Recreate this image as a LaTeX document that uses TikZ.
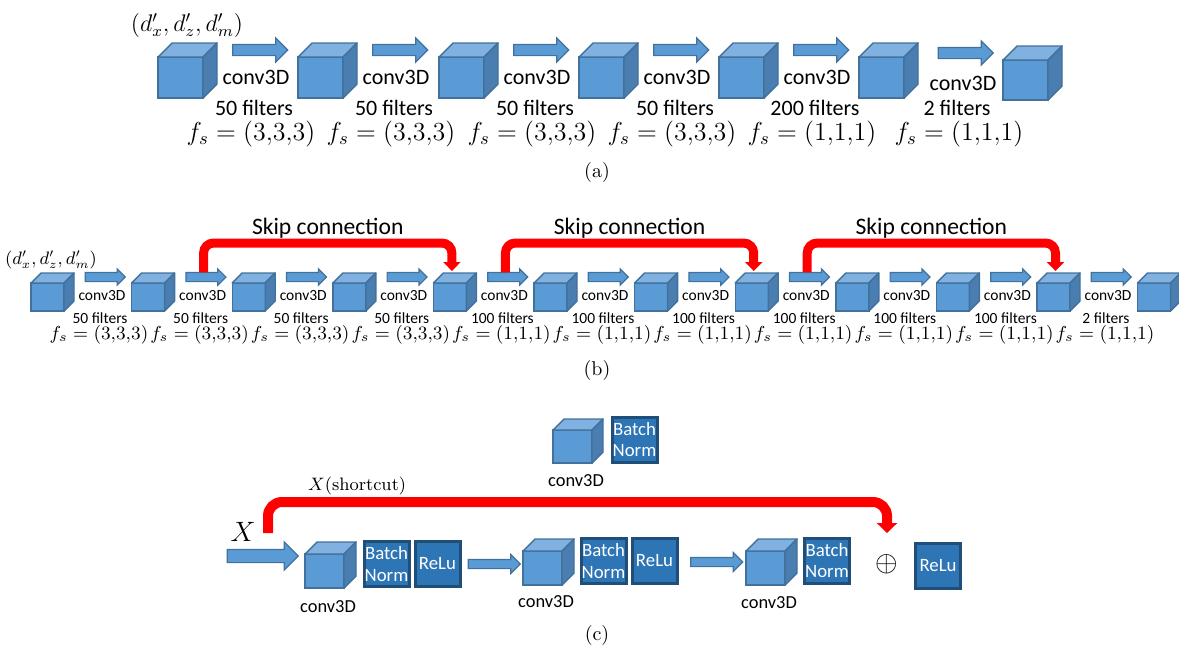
\documentclass[tikz,border=0pt]{standalone}
\usepackage{fix-cm}
\usepackage{fontspec}
\newfontfamily\calibri{Carlito}
\usepackage{tikz}
\usetikzlibrary{positioning,arrows.meta,shapes.arrows,calc}

\definecolor{cubeblue}{HTML}{5B9BD5}
\definecolor{cubelight}{HTML}{80B1E0}
\definecolor{cubedark}{HTML}{4A7DB0}
\definecolor{cubeline}{HTML}{41719C}
\definecolor{normblue}{HTML}{2E75B6}
\definecolor{normline}{HTML}{1F4E79}

\newcommand{\cubenode}[6]{%
  \node[cubeface, minimum width=#4*0.5pt, minimum height=#5*0.5pt] (#1) at (#2,#3) {};
  \filldraw[cubetopface] (#1.north west) -- ++(#6,-#6) -- ++(#4,0) -- (#1.north east) -- cycle;
  \filldraw[cubesideface] (#1.north east) -- ++(#6,-#6) -- ++(0,#5) -- (#1.south east) -- cycle;
}

\begin{document}
\begin{tikzpicture}[x=0.5pt, y=-0.5pt,
cubeface/.style={draw=cubeline, fill=cubeblue, line width=0.7pt, inner sep=0pt, outer sep=0pt},
cubetopface/.style={draw=cubeline, fill=cubelight, line width=0.7pt, line join=round},
cubesideface/.style={draw=cubeline, fill=cubedark, line width=0.7pt, line join=round},
blockarr/.style={single arrow, draw=cubeline, fill=cubeblue, line width=0.6pt, inner xsep=0pt, outer sep=0pt},
arra/.style={blockarr, minimum height=27.5pt, inner ysep=2.5pt, single arrow head extend=3.25pt},
arrb/.style={blockarr, minimum height=20pt, inner ysep=2pt, single arrow head extend=1.75pt},
arrc/.style={blockarr, minimum height=26pt, inner ysep=2pt, single arrow head extend=2.5pt},
arrin/.style={blockarr, minimum height=35.5pt, inner ysep=3pt, single arrow head extend=3.75pt},
lbla/.style={font=\calibri\fontsize{11}{13}\selectfont, inner sep=0pt},
lblb/.style={font=\calibri\fontsize{7.75}{9}\selectfont, inner sep=0pt},
lblc/.style={font=\calibri\fontsize{9.2}{11}\selectfont, inner sep=0pt},
fsa/.style={font=\fontsize{13}{15}\selectfont, inner sep=0pt},
fsb/.style={font=\fontsize{9.4}{11}\selectfont, inner sep=0pt},
normbox/.style={draw=normline, fill=normblue, line width=1.5pt, minimum size=22.5pt, inner sep=0pt, align=center, text=white, font=\calibri\fontsize{9.4}{10.8}\selectfont},
skipb/.style={draw=red, line width=4.5pt, rounded corners=5pt, -{Triangle[width=8.5pt,length=4.5pt]}},
skipc/.style={draw=red, line width=5pt, rounded corners=7pt, -{Triangle[width=10pt,length=5pt]}},
skiplbl/.style={anchor=base, yshift=4.5pt, font=\calibri\fontsize{11.8}{14}\selectfont, inner sep=0pt},
shortlbl/.style={anchor=base, yshift=6pt, font=\fontsize{9}{11}\selectfont, inner sep=0pt},
caption/.style={font=\fontsize{10}{12}\selectfont, inner sep=0pt}
]
\useasboundingbox (0,0) rectangle (1179,645);

\node[font=\fontsize{12}{14}\selectfont, inner sep=0pt] (dima) at (187,25) {$(d'_x,d'_z,d'_m)$};
\foreach \i/\x in {1/158,2/298,3/439,4/579,5/719,6/859} {
  \cubenode{ca\i}{\x+22.5}{77.5}{45}{41}{14}
}
\cubenode{ca7}{1025.5}{80}{45}{40}{14}
\foreach \i/\x/\f/\k in {1/158/50/3,2/298/50/3,3/439/50/3,4/579/50/3,5/719/200/1} {
  \node[arra] (aa\i) at (\x+99.5,50) {};
  \node[lbla] at (\x+98,77) {conv3D};
  \node[lbla] at (\x+96,108) {\f\ filters};
  \node[fsa] at (\x+93,134) {$f_s=(\k{,}\k{,}\k)$};
}
\node[arra] (aa6) at (963,53) {};
\node[lbla] at (963,83) {conv3D};
\node[lbla] at (957,108) {2 filters};
\node[fsa] at (959,134) {$f_s=(1{,}1{,}1)$};
\node[caption] at (597,172) {(a)};

\node[font=\fontsize{9}{11}\selectfont, inner sep=0pt] (dimb) at (51,260) {$(d'_x,d'_z,d'_m)$};
\foreach \j in {0,...,11} {
  \pgfmathsetmacro\bx{31+100.6*\j}
  \cubenode{cb\j}{\bx+16.5}{297}{33}{28}{10}
}
\foreach \j/\f/\k in {0/50/3,1/50/3,2/50/3,3/50/3,4/100/1,5/100/1,6/100/1,7/100/1,8/100/1,9/100/1,10/2/1} {
  \pgfmathsetmacro\bx{31+100.6*\j}
  \node[arrb] (ab\j) at (\bx+72,277) {};
  \node[lblb] at (\bx+71,296) {conv3D};
  \node[lblb] at (\bx+69,318) {\f\ filters};
  \node[fsb] at (\bx+68,335) {$f_s=(\k{,}\k{,}\k)$};
}
\draw[skipb] (ab1) -- ++(0,-34) -| node[skiplbl, pos=0.25] {Skip connection} ($(cb4.north)+(2,-12)$);
\draw[skipb] (ab4) -- ++(0,-34) -| node[skiplbl, pos=0.25] {Skip connection} ($(cb7.north)+(2,-12)$);
\draw[skipb] (ab7) -- ++(0,-34) -| node[skiplbl, pos=0.25] {Skip connection} ($(cb10.north)+(2,-12)$);
\node[caption] at (597,370) {(b)};

\cubenode{cc0}{572.5}{446.5}{39}{33}{11}
\node[normbox] (bn0) at (634.5,439.5) {Batch\\Norm};
\node[lblc] at (576,481) {conv3D};

\node[arrin] (xin) at (259.5,556) {};
\node[font=\fontsize{14}{16}\selectfont, inner sep=0pt] (xlbl) at (243,532) {$X$};
\coordinate (xs) at (268,533);
\cubenode{cc1}{324.5}{571}{39}{34}{12}
\node[normbox] (bn1) at (386.5,564) {Batch\\Norm};
\node[normbox, right=1.5pt of bn1] (relu1) {ReLu};
\node[lblc] at (328,607) {conv3D};
\node[arrc] (ac1) at (492,564) {};
\cubenode{cc2}{542.5}{568}{39}{34}{12}
\node[normbox] (bn2) at (603.5,561) {Batch\\Norm};
\node[normbox, right=1.5pt of bn2] (relu2) {ReLu};
\node[lblc] at (546,602) {conv3D};
\node[arrc] (ac2) at (714.5,562) {};
\cubenode{cc3}{765.5}{568}{39}{34}{12}
\node[normbox] (bn3) at (827,560.5) {Batch\\Norm};
\node[lblc] at (769,603) {conv3D};
\node[font=\fontsize{14.5}{16}\selectfont, inner sep=0pt] (sum) at (887,564) {$\oplus$};
\node[normbox] (relu4) at (938,565.5) {ReLu};
\draw[skipc] (xs) -- ++(0,-31) -| node[shortlbl, pos=0.072] {$X(\mathrm{shortcut})$} ($(sum.center)+(0,-31)$);
\node[caption] at (597,635) {(c)};
\end{tikzpicture}
\end{document}
